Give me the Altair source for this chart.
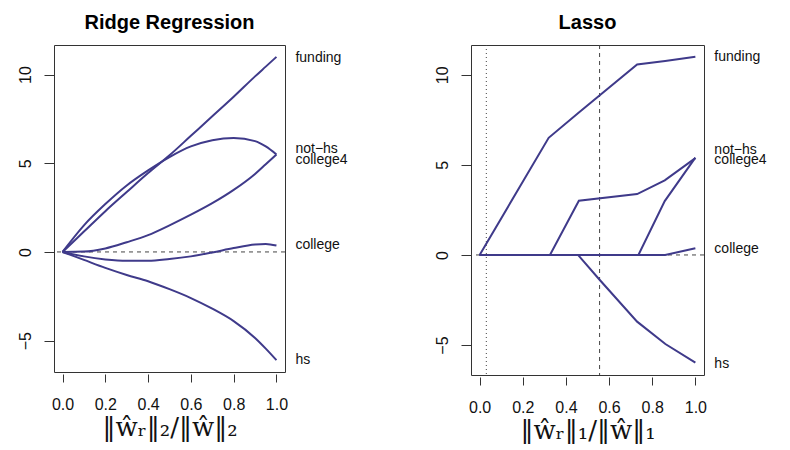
import altair as alt
import pandas as pd

# ---------------- data ----------------
variables = ["funding", "not\u2212hs", "college4", "college", "hs"]

# Ridge regression paths (shrinkage ratio -> coefficient)
ridge_s = [0, 0.1, 0.2, 0.3, 0.4, 0.5, 0.6, 0.7, 0.8, 0.9, 0.95, 1.0]
ridge_funding = [0, 1.15, 2.3, 3.38, 4.45, 5.45, 6.55, 7.65, 8.75, 9.9, 10.45, 11.0]
ridge_noths = [0, 1.5, 2.7, 3.75, 4.6, 5.35, 5.95, 6.3, 6.43, 6.25, 5.95, 5.5]
ridge_college4 = [0, 0.02, 0.2, 0.55, 0.95, 1.5, 2.1, 2.75, 3.5, 4.4, 4.95, 5.5]
ridge_college = [0, -0.25, -0.42, -0.5, -0.5, -0.4, -0.25, -0.03, 0.22, 0.42, 0.45, 0.36]
ridge_hs = [0, -0.45, -0.9, -1.3, -1.65, -2.1, -2.6, -3.2, -3.9, -4.85, -5.45, -6.1]

# Lasso paths (knots)
lasso_funding_s = [0, 0.32, 0.46, 0.73, 0.86, 1.0]
lasso_funding = [0, 6.5, 7.9, 10.57, 10.76, 11.0]
lasso_noths_s = [0, 0.326, 0.46, 0.73, 0.858, 1.0]
lasso_noths = [0, 0, 3.01, 3.38, 4.14, 5.37]
lasso_college4_s = [0, 0.736, 0.858, 1.0]
lasso_college4 = [0, 0, 2.99, 5.40]
lasso_college_s = [0, 0.86, 1.0]
lasso_college = [0, 0, 0.37]
lasso_hs_s = [0, 0.456, 0.555, 0.73, 0.861, 1.0]
lasso_hs = [0, 0, -1.36, -3.7, -4.94, -5.97]

# end labels (y positions)
ridge_label_y = [10.95, 5.78, 5.2, 0.38, -6.08]
lasso_label_y = [10.98, 5.84, 5.29, 0.31, -6.03]

# lasso vertical reference lines
lasso_dotted_x = [0.031]
lasso_dashed_x = [0.556]

x_ticks = [0, 0.2, 0.4, 0.6, 0.8, 1.0]
y_ticks = [-5, 0, 5, 10]

LINE = "#3F3A8A"
FONT = "Liberation Sans"

ridge_rows = []
for name, vals in zip(variables, [ridge_funding, ridge_noths, ridge_college4, ridge_college, ridge_hs]):
    for s, v in zip(ridge_s, vals):
        ridge_rows.append({"var": name, "s": s, "coef": v})
ridge_df = pd.DataFrame(ridge_rows)

lasso_rows = []
for name, ss, vals in zip(
    variables,
    [lasso_funding_s, lasso_noths_s, lasso_college4_s, lasso_college_s, lasso_hs_s],
    [lasso_funding, lasso_noths, lasso_college4, lasso_college, lasso_hs],
):
    for s, v in zip(ss, vals):
        lasso_rows.append({"var": name, "s": s, "coef": v})
lasso_df = pd.DataFrame(lasso_rows)


def panel(df, label_y, title, xtitle, ydomain, width, height, interp, extra=None):
    xs = alt.Scale(domain=[-0.04, 1.04], nice=False, zero=False)
    ys = alt.Scale(domain=ydomain, nice=False, zero=False)
    xaxis = alt.Axis(
        values=x_ticks, format=".1f", domain=False, grid=False,
        tickSize=8, offset=2, tickColor="#333", tickWidth=1,
        labelFont=FONT, labelFontSize=16, labelColor="#111", labelPadding=14,
        title=xtitle, titleFont="DejaVu Serif", titleFontSize=26,
        titleFontWeight="normal", titleColor="#111", titlePadding=2,
    )
    yaxis = alt.Axis(
        values=y_ticks, domain=False, grid=False,
        tickSize=10, tickColor="#333", tickWidth=1,
        labelFont=FONT, labelFontSize=16, labelColor="#111",
        labelAngle=270, labelAlign="center", labelBaseline="alphabetic",
        labelPadding=14, title=None,
    )
    zero = alt.Chart(pd.DataFrame({"y": [0]})).mark_rule(
        strokeDash=[4, 4], color="#444", strokeWidth=1
    ).encode(y=alt.Y("y:Q", scale=ys, axis=yaxis))
    layers = [zero]
    if extra:
        layers += extra(xs, xaxis)
    lines = alt.Chart(df).mark_line(
        color=LINE, strokeWidth=2, interpolate=interp
    ).encode(
        x=alt.X("s:Q", scale=xs, axis=xaxis),
        y=alt.Y("coef:Q", scale=ys, axis=yaxis),
        detail="var:N",
    )
    lab_df = pd.DataFrame({"var": variables, "lx": [1.0] * len(variables), "ly": label_y})
    labels = alt.Chart(lab_df).mark_text(
        align="left", baseline="middle", dx=19, fontSize=14, font=FONT, color="#111"
    ).encode(
        x=alt.X("lx:Q", scale=xs, axis=xaxis),
        y=alt.Y("ly:Q", scale=ys, axis=yaxis),
        text="var:N",
    )
    layers += [lines, labels]
    return alt.layer(*layers).properties(
        width=width, height=height,
        title=alt.TitleParams(title, font=FONT, fontSize=20, fontWeight="bold",
                              color="#000", offset=12, anchor="middle"),
    )


def lasso_extra(xs, xaxis):
    dotted = alt.Chart(pd.DataFrame({"x": lasso_dotted_x})).mark_rule(
        strokeDash=[1, 3], color="#444", strokeWidth=1
    ).encode(x=alt.X("x:Q", scale=xs, axis=xaxis))
    dashed = alt.Chart(pd.DataFrame({"x": lasso_dashed_x})).mark_rule(
        strokeDash=[4, 4], color="#444", strokeWidth=1
    ).encode(x=alt.X("x:Q", scale=xs, axis=xaxis))
    return [dotted, dashed]


left = panel(ridge_df, ridge_label_y, "Ridge Regression",
             "\u2016\u0175\u1d63\u2016\u2082/\u2016\u0175\u2016\u2082",
             [-6.77, 11.67], 231, 327, "monotone")
right = panel(lasso_df, lasso_label_y, "Lasso",
              "\u2016\u0175\u1d63\u2016\u2081/\u2016\u0175\u2016\u2081",
              [-6.66, 11.65], 233, 330, "linear", lasso_extra)

chart = alt.hconcat(left, right, spacing=84).properties(
    padding={"left": 8, "top": 4, "right": 0, "bottom": 0}
).configure_view(stroke="#333", strokeWidth=1)

chart.save("out.html", embed_options={"renderer": "svg", "actions": False})
